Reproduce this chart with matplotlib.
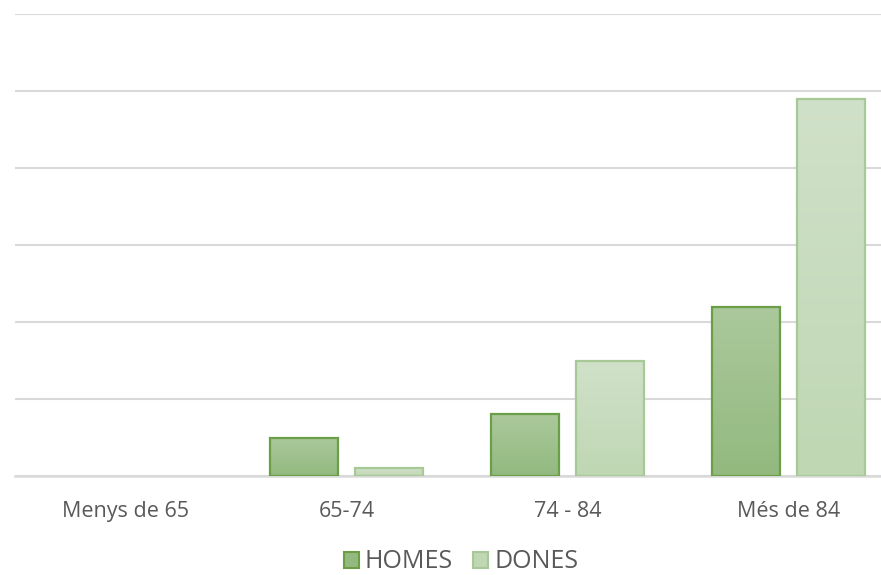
import matplotlib
matplotlib.use("Agg")
import matplotlib.pyplot as plt
import numpy as np
from matplotlib.patches import Rectangle
from matplotlib.colors import LinearSegmentedColormap

categories = ["Menys de 65", "65-74", "74 - 84", "Més de 84"]
homes = [0.0, 0.5, 0.8, 2.2]
dones = [0.0, 0.1, 1.5, 4.9]
series_names = ["HOMES", "DONES"]

W, H = 881, 575
fig = plt.figure(figsize=(W / 100, H / 100), dpi=100)
left = 15 / W
right_px = 899
bottom = (H - 476) / H
top = (H - 14) / H
ax = fig.add_axes([left, bottom, (right_px - 15) / W, top - bottom])

n = len(categories)
x = np.arange(n)
bw = 68 / 221
gap = 17 / 221
ax.set_xlim(-0.5, n - 0.5)
ax.set_ylim(0, 6)

styles = [
    dict(top="#abc99c", bot="#93b97f", edge="#6a9f48"),
    dict(top="#d0e1c9", bot="#bfd7b3", edge="#a7c997"),
]

def grad_bar(xc, h, st):
    if h <= 0:
        return
    x0 = xc - bw / 2
    cmap = LinearSegmentedColormap.from_list("g", [st["bot"], st["top"]])
    grad = np.linspace(0, 1, 256).reshape(-1, 1)
    im = ax.imshow(grad, cmap=cmap, origin="lower", aspect="auto",
                   extent=[x0, x0 + bw, 0, h], zorder=3)
    rect = Rectangle((x0, 0), bw, h, facecolor="none", edgecolor=st["edge"],
                     linewidth=1.6, zorder=4)
    ax.add_patch(rect)
    im.set_clip_path(rect)

offs = [-(bw + gap) / 2, (bw + gap) / 2]
for vals, off, st in zip([homes, dones], offs, styles):
    for xi, v in zip(x, vals):
        grad_bar(xi + off, v, st)

ax.set_xlim(-0.5, n - 0.5)
ax.set_ylim(0, 6)
ax.set_yticks(np.arange(0, 7, 1))
ax.yaxis.grid(True, color="#d9d9d9", linewidth=1.5, zorder=0)
ax.set_axisbelow(True)
ax.tick_params(axis="y", left=False, labelleft=False)
ax.set_xticks(x)
ax.set_xticklabels(categories, fontsize=15.5, color="#595959", family="Open Sans")
ax.tick_params(axis="x", length=0, pad=18)
for s in ["left", "right", "top"]:
    ax.spines[s].set_visible(False)
ax.spines["bottom"].set_color("#d9d9d9")
ax.spines["bottom"].set_linewidth(1.8)

handles = [Rectangle((0, 0), 1, 1, facecolor=st["bot"], edgecolor=st["edge"], linewidth=1.5)
           for st in styles]
fig.legend(handles, series_names, loc="center", bbox_to_anchor=(461 / W, (H - 562) / H),
           ncol=2, frameon=False, prop=dict(family="Open Sans", size=18),
           labelcolor="#595959", handlelength=0.6, handleheight=0.6,
           handletextpad=0.25, columnspacing=0.8, borderaxespad=0)

fig.savefig("out.png", dpi=100)
